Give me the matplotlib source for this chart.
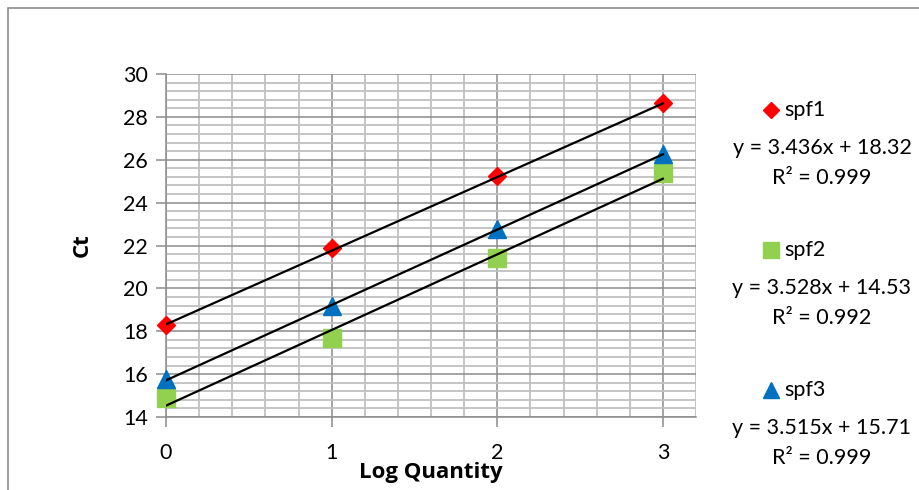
import matplotlib
matplotlib.use("Agg")
import matplotlib.pyplot as plt
from matplotlib.patches import Rectangle
import numpy as np

plt.rcParams["font.family"] = ["Lato", "DejaVu Sans"]

log_qty = [0, 1, 2, 3]
spf1 = [18.3, 21.9, 25.25, 28.65]
spf2 = [14.9, 17.7, 21.4, 25.4]
spf3 = [15.75, 19.2, 22.75, 26.25]
series_names = ["spf1", "spf2", "spf3"]
slopes = [3.436, 3.528, 3.515]
intercepts = [18.32, 14.53, 15.71]
r_squared = [0.999, 0.992, 0.999]

W, H = 919, 490
fig = plt.figure(figsize=(W / 100, H / 100), dpi=100)
ax = fig.add_axes([166 / W, 1 - 417 / H, (696 - 166) / W, (417 - 74) / H])

# outer chart border (clipped on the right/bottom like the source)
fig.add_artist(Rectangle((8 / W, -0.2), 1.2, (H - 8) / H + 0.2, transform=fig.transFigure,
                         fill=False, edgecolor="#8c8c8c", linewidth=1.2))

ax.set_xlim(0, 3.2)
ax.set_ylim(14, 30)
ax.set_xticks([0, 1, 2, 3])
ax.set_yticks(np.arange(14, 31, 2))
ax.set_xticks(np.arange(0, 3.21, 0.2), minor=True)
ax.set_yticks(np.arange(14, 30.01, 0.4), minor=True)
ax.grid(which="minor", color="#c0c0c0", linewidth=1.3)
ax.grid(which="major", color="#8c8c8c", linewidth=1.1)
ax.set_axisbelow(True)
for side in ["top", "right"]:
    ax.spines[side].set_visible(False)
for side in ["left", "bottom"]:
    ax.spines[side].set_color("#8c8c8c")
    ax.spines[side].set_linewidth(1.1)
ax.tick_params(which="major", length=7, width=1.1, color="#8c8c8c", labelsize=15.5, pad=6)
ax.tick_params(axis="x", pad=12)
ax.tick_params(which="minor", length=0)

bold_font = dict(family=["Open Sans", "DejaVu Sans"], fontsize=16, fontweight="bold")
ax.set_ylabel("Ct", labelpad=22, **bold_font)
ax.set_xlabel("Log Quantity", **bold_font)
ax.xaxis.set_label_coords(0.5, (417 - 462) / 343)

styles = [
    dict(marker="D", color="#ff0000", markersize=9.5),
    dict(marker="s", color="#92d050", markersize=13),
    dict(marker="^", color="#0070c0", markersize=13),
]
data = [spf1, spf2, spf3]
x_line = np.array([0, 3])
for vals, st, m, b in zip(data, styles, slopes, intercepts):
    ax.plot(log_qty, vals, linestyle="none", clip_on=False, zorder=3, **st)
    ax.plot(x_line, m * x_line + b, color="black", linewidth=1.6, zorder=4)

# legend / trendline labels
legend_y = [110, 250, 390]
for name, st, m, b, r2, ly in zip(series_names, styles, slopes, intercepts, r_squared, legend_y):
    fig.add_artist(plt.Line2D([771 / W], [1 - ly / H], transform=fig.transFigure,
                              linestyle="none", marker=st["marker"], color=st["color"],
                              markersize=st["markersize"] * 0.85))
    fig.text(784 / W, 1 - ly / H, name, fontsize=15.5, va="center", ha="left")
    fig.text(822 / W, 1 - (ly + 38) / H, f"y = {m:.3f}x + {b:.2f}", fontsize=15.5,
             va="center", ha="center")
    fig.text(822 / W, 1 - (ly + 68) / H, f"R² = {r2:.3f}", fontsize=15.5,
             va="center", ha="center")

fig.savefig("out.png", dpi=100)
